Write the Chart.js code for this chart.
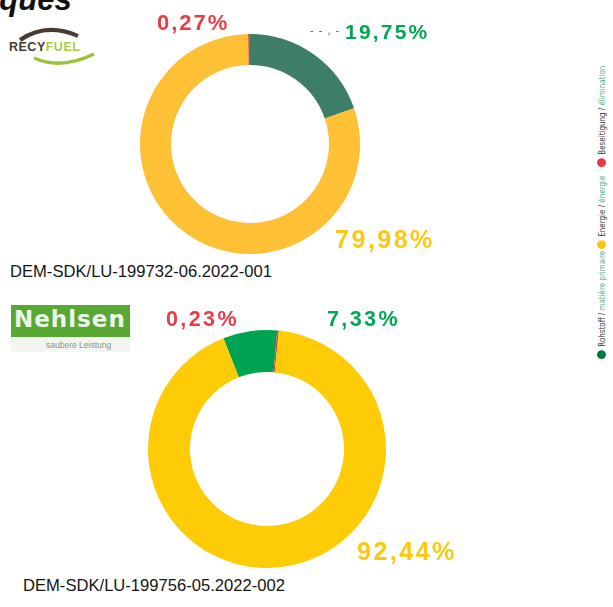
<!DOCTYPE html>
<html>
<head>
<meta charset="utf-8">
<script src="https://cdn.jsdelivr.net/npm/chart.js@4"></script>
<style>
  body { margin: 0; width: 613px; height: 607px; overflow: hidden; background: #fff; position: relative;
         font-family: "Liberation Sans", Arial, sans-serif; }
  .abs { position: absolute; white-space: nowrap; line-height: 1; }
  .val { font-weight: bold; }
  .cert { font-size: 16.6px; color: #151515; }
  .leg { position: absolute; white-space: nowrap; line-height: 10px; height: 10px; transform-origin: 0 0;
         transform: rotate(-90deg) scale(0.88, 1); font-family: "Liberation Sans Narrow", "DejaVu Sans Condensed", sans-serif;
         font-size: 9px; color: #3a3a3a; }
  .leg .dot { display: inline-block; width: 10px; height: 9px; border-radius: 50%; vertical-align: -1px; margin-right: 4px; }
  .leg .fr { color: #4fae86; }
  canvas { position: absolute; }
</style>
</head>
<body>

<div class="abs" style="left:-104px; top:-16px; font-size:31px; font-weight:bold; font-style:italic; color:#111;">Statistiques</div>

<!-- RECYFUEL logo -->
<svg class="abs" style="left:6px; top:24px;" width="98" height="44">
  <path d="M14 16 Q40 -2 72 12" stroke="#4a3a33" stroke-width="4" fill="none"/>
  <text x="3" y="27" font-family="Liberation Sans, Arial" font-weight="bold" font-size="12.5" fill="#4a3a33" letter-spacing="0.5">RECY<tspan fill="#a9c94a">FUEL</tspan></text>
  <path d="M28 34 Q55 46 88 30" stroke="#9cc23c" stroke-width="3.5" fill="none"/>
</svg>

<!-- Nehlsen logo -->
<div class="abs" style="left:11px; top:305px; width:119px; height:32px; background:#5aa834;"></div>
<div class="abs" style="left:14px; top:308px; font-size:23px; font-weight:bold; color:#eef6ea; letter-spacing:1px; font-family:'DejaVu Sans', sans-serif;">Nehlsen</div>
<div class="abs" style="left:11px; top:337px; width:119px; height:15px; background:#f3f5f1;"></div>
<div class="abs" style="left:46px; top:341px; font-size:8.5px; color:#8b9485;">saubere Leistung</div>

<canvas id="chartTop" width="220" height="220" style="left:140px; top:34px; width:220px; height:220px;"></canvas>
<canvas id="chartBottom" width="238" height="238" style="left:148px; top:330px; width:238px; height:238px;"></canvas>

<div id="labels"></div>
<div id="legend"></div>

<script>
// Kategorien / catégories
const categories = ['Rohstoff', 'Energie', 'Beseitigung'];
const categoriesFr = ['matière primaire', 'énergie', 'élimination'];

// Anteile in %
const recyfuelValues = [19.75, 79.98, 0.27];
const nehlsenValues = [7.33, 92.44, 0.23];

const certTop = 'DEM-SDK/LU-199732-06.2022-001';
const certBottom = 'DEM-SDK/LU-199756-05.2022-002';

const textColors = ['#00a651', '#fdc80f', '#e63e48'];
const topColors = ['#3e7d67', '#fec136', '#e8472e'];
const bottomColors = ['#00a34f', '#fecc07', '#e63a3c'];
const dotColors = ['#007a45', '#fdc80f', '#e63a3c'];

const fmt = v => v.toFixed(2).replace('.', ',') + '%';

function makeDoughnut(id, values, colors, order, cutout, rotation) {
    const ctx = document.getElementById(id).getContext('2d');
    return new Chart(ctx, {
        type: 'doughnut',
        data: {
            labels: order.map(i => categories[i]),
            datasets: [{
                data: order.map(i => values[i]),
                backgroundColor: order.map(i => colors[i]),
                borderWidth: 0
            }]
        },
        options: {
            responsive: false,
            animation: false,
            cutout: cutout,
            rotation: rotation,
            layout: { padding: 0 },
            plugins: { legend: { display: false }, tooltip: { enabled: false } }
        }
    });
}

makeDoughnut('chartTop', recyfuelValues, topColors, [0, 1, 2], '71.8%', 0);
makeDoughnut('chartBottom', nehlsenValues, bottomColors, [0, 2, 1], '64.7%', -21.5);

// Wertbeschriftungen
const labelBox = document.getElementById('labels');
function addLabel(text, color, x, y, size, spacing) {
    const d = document.createElement('div');
    d.className = 'abs val';
    d.style.cssText = `left:${x}px; top:${y}px; font-size:${size}px; letter-spacing:${spacing}px; color:${color};`;
    d.textContent = text;
    labelBox.appendChild(d);
}
addLabel(fmt(recyfuelValues[2]), textColors[2], 157, 12, 22, 2);
addLabel(fmt(recyfuelValues[0]), textColors[0], 345, 20.5, 21, 2.2);
addLabel(fmt(recyfuelValues[1]), textColors[1], 335, 226.5, 25, 2.5);
addLabel(fmt(nehlsenValues[2]), textColors[2], 166, 309, 21.5, 2.4);
addLabel(fmt(nehlsenValues[0]), textColors[0], 327, 309, 21.5, 2.4);
addLabel(fmt(nehlsenValues[1]), textColors[1], 357, 538.5, 25, 2.5);

// Reste der Führungslinie
const dash = document.createElement('div');
dash.className = 'abs';
dash.style.cssText = 'left:310px; top:25px; font-size:11px; color:#2f6b57; letter-spacing:1px;';
dash.textContent = '- - , -';
labelBox.appendChild(dash);

const c1 = document.createElement('div');
c1.className = 'abs cert';
c1.style.cssText = 'left:10px; top:263.8px;';
c1.textContent = certTop;
labelBox.appendChild(c1);
const c2 = document.createElement('div');
c2.className = 'abs cert';
c2.style.cssText = 'left:23px; top:577.8px;';
c2.textContent = certBottom;
labelBox.appendChild(c2);

// senkrechte Legende
const legendBox = document.getElementById('legend');
const dotY = [355, 245, 163];
categories.forEach((name, i) => {
    const d = document.createElement('div');
    d.className = 'leg';
    d.style.left = '597px';
    d.style.top = (dotY[i] + 4.4) + 'px';
    d.innerHTML = `<span class="dot" style="background:${dotColors[i]}"></span>${name} / <span class="fr">${categoriesFr[i]}</span>`;
    legendBox.appendChild(d);
});
</script>
</body>
</html>
